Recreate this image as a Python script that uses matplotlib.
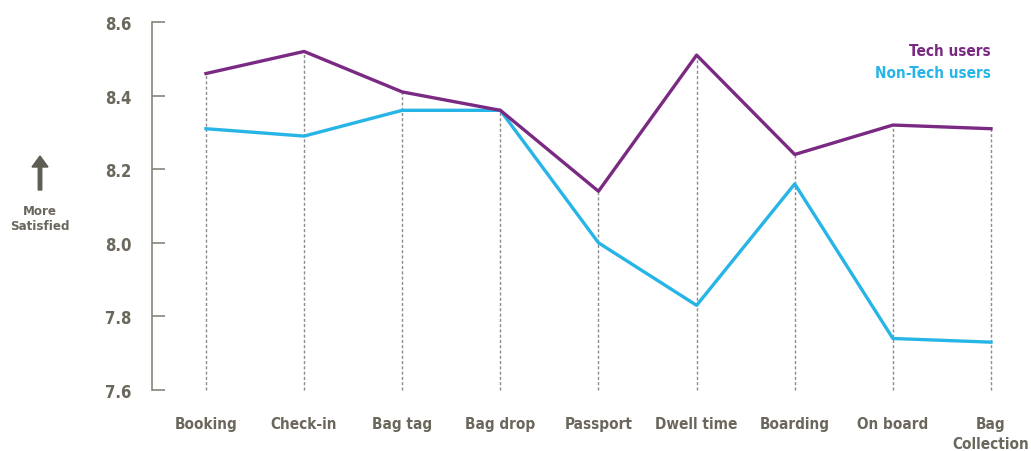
import matplotlib
matplotlib.use("Agg")
import matplotlib.pyplot as plt
import numpy as np

categories = ["Booking", "Check-in", "Bag tag", "Bag drop", "Passport",
              "Dwell time", "Boarding", "On board", "Bag\nCollection"]
tech_users = [8.46, 8.52, 8.41, 8.36, 8.14, 8.51, 8.24, 8.32, 8.31]
non_tech_users = [8.31, 8.29, 8.36, 8.36, 8.00, 7.83, 8.16, 7.74, 7.73]
y_ticks = [7.6, 7.8, 8.0, 8.2, 8.4, 8.6]

TECH_C = "#7a2a82"
NON_C = "#27b4e6"
TXT_C = "#6b675c"
AX_C = "#85857a"
DASH_C = "#8c8c8c"

plt.rcParams['font.family'] = ['DejaVu Sans']

fig = plt.figure(figsize=(10.31, 4.52), dpi=100)
ax = fig.add_axes([152/1031, 1-391/452, (991-152)/1031, (391-23)/452])

x = np.arange(len(categories))
top = np.maximum(tech_users, non_tech_users)
ax.vlines(x, 7.6, top, colors=DASH_C, linestyles=(0, (2.2, 1.6)), linewidth=1.0,
          zorder=1, clip_on=False)
ax.plot(x, non_tech_users, color=NON_C, linewidth=2.4, zorder=3, clip_on=False)
ax.plot(x, tech_users, color=TECH_C, linewidth=2.4, zorder=4, clip_on=False)

ax.set_xlim(-0.55, 8.0)
ax.set_ylim(7.6, 8.6)
for s in ["top", "right", "bottom"]:
    ax.spines[s].set_visible(False)
ax.spines["left"].set_color(AX_C)
ax.spines["left"].set_linewidth(1.2)
ax.set_yticks(y_ticks)
ax.set_yticklabels([f"{v:.1f}" for v in y_ticks], fontsize=12, fontweight='bold',
                   color=TXT_C, fontstretch='condensed')
ax.tick_params(axis='y', direction='in', length=9, width=1.2, color=AX_C, pad=15)
ax.set_xticks([])
for xi, lab in zip(x, categories):
    ax.text(xi, 7.6 - 0.072, lab, ha='center', va='top', fontsize=11, fontweight='bold',
            color=TXT_C, fontstretch='condensed', linespacing=1.35, clip_on=False)

# legend
fig.text(991/1031, 1-52/452, "Tech users", ha='right', va='center', fontsize=11,
         fontweight='bold', color=TECH_C, fontstretch='condensed')
fig.text(991/1031, 1-73/452, "Non-Tech users", ha='right', va='center', fontsize=11,
         fontweight='bold', color=NON_C, fontstretch='condensed')

# arrow annotation
fig.patches.append(matplotlib.patches.FancyArrow(
    40/1031, 1-191/452, 0, 34/452, width=3.5/1031, head_width=16/1031,
    head_length=11/452, length_includes_head=True, color="#5f5e55",
    transform=fig.transFigure, figure=fig))
fig.text(40/1031, 1-219/452, "More\nSatisfied", ha='center', va='center', fontsize=9.5,
         fontweight='bold', color=TXT_C, fontstretch='condensed', linespacing=1.2)

fig.savefig("out.png", dpi=100)
